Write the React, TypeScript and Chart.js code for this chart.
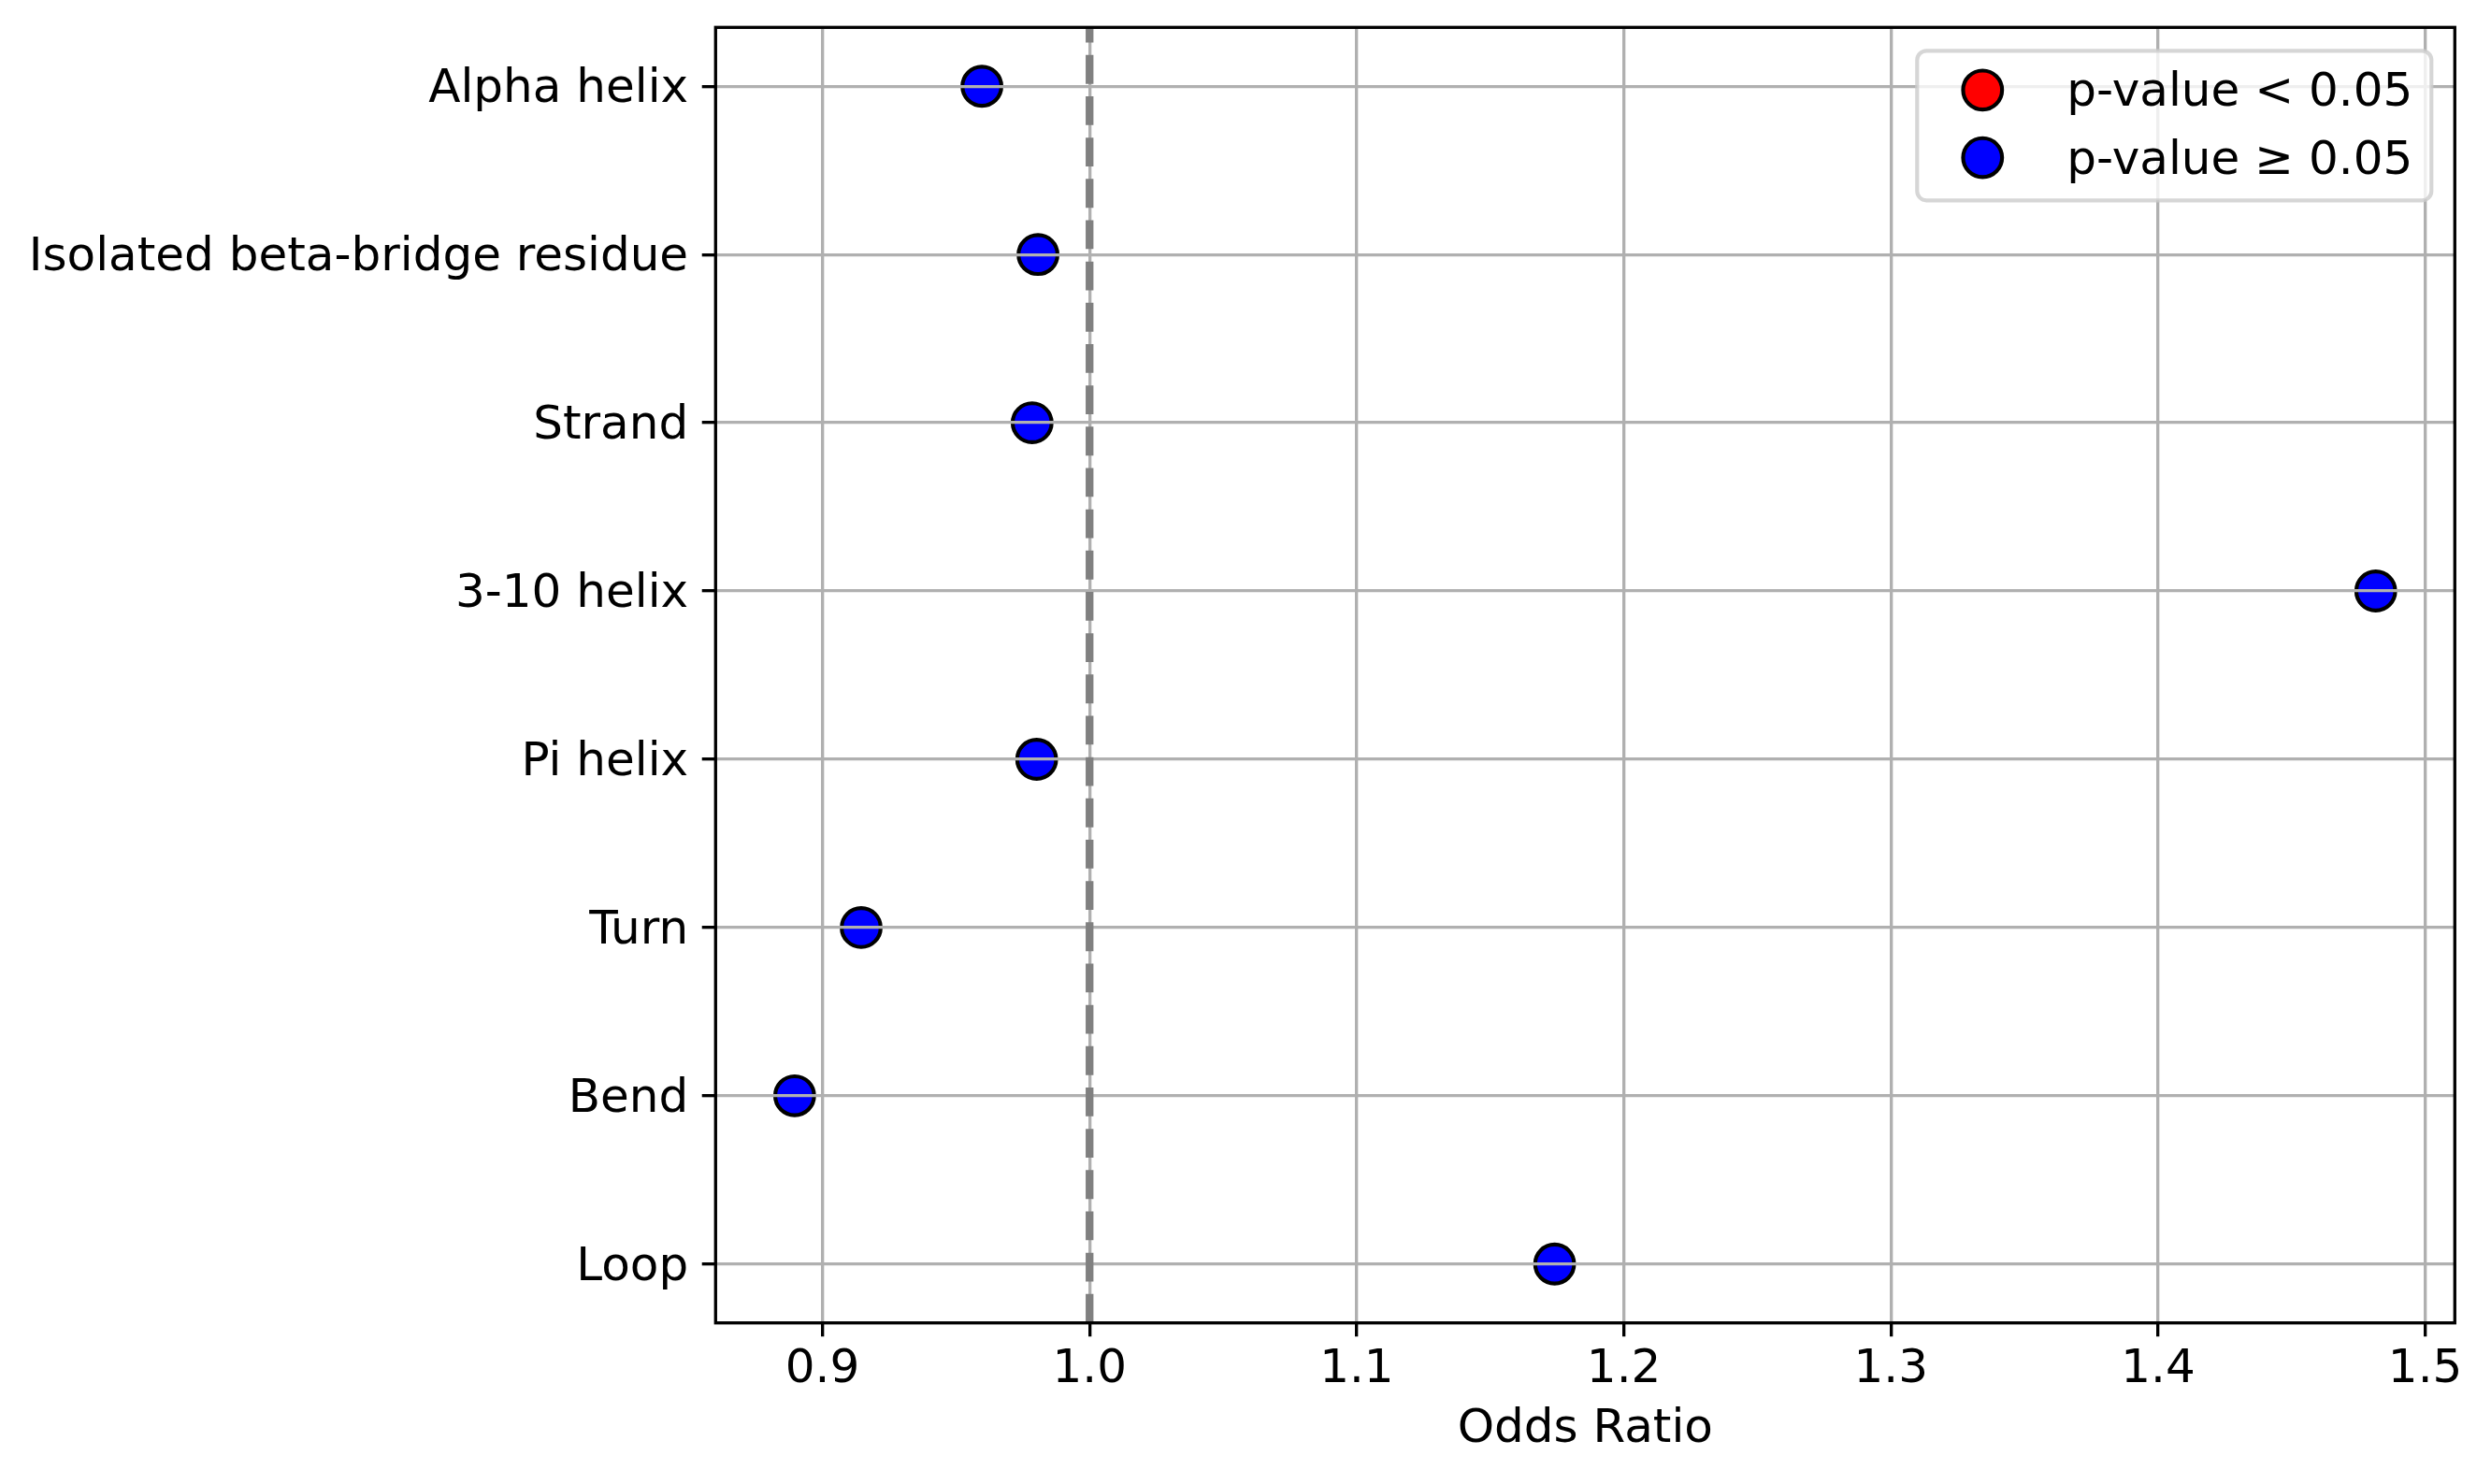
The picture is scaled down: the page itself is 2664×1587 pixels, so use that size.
import { useEffect, useRef } from 'react';
import { Chart, registerables } from 'chart.js';

Chart.register(...registerables);

// secondary structure categories, top to bottom
const structures = [
  'Alpha helix',
  'Isolated beta-bridge residue',
  'Strand',
  '3-10 helix',
  'Pi helix',
  'Turn',
  'Bend',
  'Loop',
];
const oddsRatios = [0.9597, 0.9807, 0.9785, 1.4815, 0.9802, 0.9145, 0.8896, 1.1741];
const significant = [false, false, false, false, false, false, false, false];
const xTicks = [0.9, 1.0, 1.1, 1.2, 1.3, 1.4, 1.5];
const legendLabels = ['p-value < 0.05', 'p-value \u2265 0.05'];
const referenceLine = 1.0;

const PT = 300 / 72;
const FONT = 'DejaVu Sans';
const FONT_PX = 12 * PT;

const lo = Math.min(...oddsRatios);
const hi = Math.max(...oddsRatios);
const xPad = (hi - lo) * 0.05;

// nudge y tick labels down a bit so they sit like matplotlib's centre_baseline
const labelNudge = {
  id: 'labelNudge',
  beforeDraw(chart: any) {
    const ys = chart.scales.y;
    const items = ys.getLabelItems();
    if (items._nudged) return;
    items.forEach((it: any) => { it.options.translation[1] += 4; });
    items._nudged = true;
  },
};

const overlay = {
  id: 'overlay',
  afterDraw(chart: any) {
    const { ctx, chartArea } = chart;
    const xs = chart.scales.x;
    ctx.save();

    // dashed reference line, drawn bottom to top like matplotlib
    const rx = xs.getPixelForValue(referenceLine);
    ctx.strokeStyle = '#808080';
    ctx.lineWidth = 2 * PT;
    ctx.lineCap = 'butt';
    ctx.setLineDash([3.7 * 2 * PT, 1.6 * 2 * PT]);
    ctx.beginPath();
    ctx.moveTo(rx, chartArea.bottom);
    ctx.lineTo(rx, chartArea.top);
    ctx.stroke();
    ctx.setLineDash([]);

    // spines
    ctx.strokeStyle = '#000000';
    ctx.lineWidth = 0.8 * PT;
    ctx.strokeRect(chartArea.left, chartArea.top, chartArea.right - chartArea.left, chartArea.bottom - chartArea.top);

    // legend box
    ctx.font = `${FONT_PX}px "${FONT}"`;
    const items = chart.data.datasets.map((ds: any) => ({ label: ds.label, color: ds.backgroundColor }));
    const textW = Math.max(...items.map((it: any) => ctx.measureText(it.label).width));
    const bp = 0.4 * FONT_PX;
    const handle = 2 * FONT_PX;
    const gap = 0.8 * FONT_PX;
    const width = bp + handle + gap + textW + bp;
    const height = 160;
    const right = chartArea.right - 0.5 * FONT_PX;
    const top = chartArea.top + 0.5 * FONT_PX;
    const left = right - width;
    ctx.beginPath();
    ctx.roundRect(left, top, width, height, 0.2 * FONT_PX);
    ctx.fillStyle = 'rgba(255,255,255,0.8)';
    ctx.fill();
    ctx.strokeStyle = 'rgba(204,204,204,0.8)';
    ctx.lineWidth = 1 * PT;
    ctx.stroke();

    items.forEach((it: any, i: number) => {
      const cy = top + 42 + i * 72.3;
      ctx.beginPath();
      ctx.arc(left + bp + handle / 2, cy, 5 * PT, 0, Math.PI * 2);
      ctx.fillStyle = it.color;
      ctx.fill();
      ctx.strokeStyle = '#000000';
      ctx.lineWidth = 1 * PT;
      ctx.stroke();
      ctx.fillStyle = '#000000';
      ctx.textAlign = 'left';
      ctx.textBaseline = 'alphabetic';
      ctx.fillText(it.label, left + bp + handle + gap, cy + 17);
    });
    ctx.restore();
  },
};

export default function App() {
  const canvasRef = useRef<HTMLCanvasElement>(null);

  useEffect(() => {
    document.body.style.margin = '0';
    if (!canvasRef.current) return;
    Chart.defaults.font.family = FONT;
    Chart.defaults.color = '#000000';

    const points = oddsRatios.map((v, i) => ({ x: v, y: i }));
    const chart = new Chart(canvasRef.current, {
      type: 'scatter',
      data: {
        datasets: [
          {
            label: legendLabels[0],
            data: points.filter((_, i) => significant[i]),
            backgroundColor: '#ff0000',
            borderColor: '#000000',
            borderWidth: 1 * PT,
            pointRadius: 5 * PT,
          },
          {
            label: legendLabels[1],
            data: points.filter((_, i) => !significant[i]),
            backgroundColor: '#0000ff',
            borderColor: '#000000',
            borderWidth: 1 * PT,
            pointRadius: 5 * PT,
          },
        ],
      },
      options: {
        responsive: false,
        devicePixelRatio: 1,
        animation: false,
        events: [],
        layout: { padding: { left: 0, top: 29.3, right: 38.7, bottom: 0 } },
        plugins: { legend: { display: false }, tooltip: { enabled: false } },
        scales: {
          x: {
            type: 'linear',
            min: lo - xPad,
            max: hi + xPad,
            afterBuildTicks: (s: any) => { s.ticks = xTicks.map((v) => ({ value: v })); },
            afterFit: (s: any) => {
              s.height = 172.3;
              s.paddingLeft = 0;
              s.paddingRight = 0;
            },
            ticks: {
              callback: (v: any) => Number(v).toFixed(1),
              font: { size: FONT_PX },
              color: '#000000',
              padding: 6,
              maxRotation: 0,
              autoSkip: false,
            },
            grid: {
              z: 1,
              color: '#b0b0b0',
              lineWidth: 0.8 * PT,
              tickLength: 3.5 * PT,
              tickColor: '#000000',
              tickWidth: 0.8 * PT,
            },
            border: { display: false },
            title: {
              display: true,
              text: 'Odds Ratio',
              font: { size: FONT_PX },
              color: '#000000',
              padding: { top: 0, bottom: 27.6 },
            },
          },
          y: {
            type: 'linear',
            reverse: true,
            min: -0.35,
            max: structures.length - 1 + 0.35,
            afterBuildTicks: (s: any) => { s.ticks = structures.map((_, i) => ({ value: i })); },
            afterFit: (s: any) => {
              s.width = 765.3;
              s.paddingTop = 0;
              s.paddingBottom = 0;
            },
            ticks: {
              callback: (v: any) => structures[v] ?? '',
              font: { size: FONT_PX },
              color: '#000000',
              padding: 3.5 * PT,
              autoSkip: false,
            },
            grid: {
              z: 1,
              color: '#b0b0b0',
              lineWidth: 0.8 * PT,
              tickLength: 3.5 * PT,
              tickColor: '#000000',
              tickWidth: 0.8 * PT,
            },
            border: { display: false },
          },
        },
      },
      plugins: [labelNudge, overlay],
    });
    return () => { chart.destroy(); };
  }, []);

  return (
    <div style={{ width: 2664, height: 1587, background: '#ffffff' }}>
      <canvas ref={canvasRef} width={2664} height={1587} style={{ display: 'block' }} />
    </div>
  );
}
